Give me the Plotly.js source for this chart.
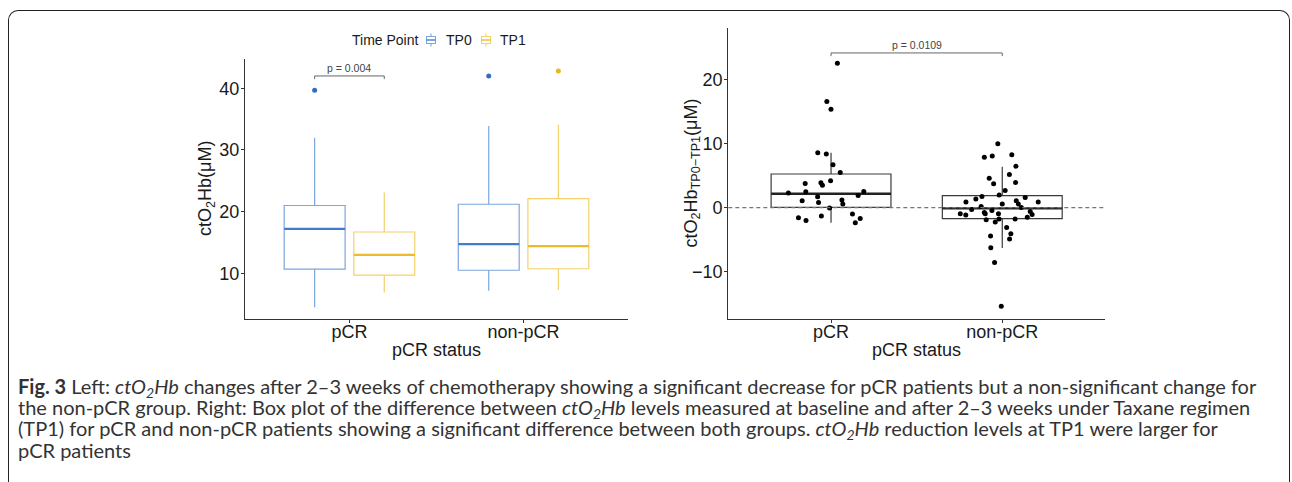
<!DOCTYPE html>
<html><head><meta charset="utf-8">
<script src="https://cdn.plot.ly/plotly-3.0.1.min.js"></script>
<style>
html,body{margin:0;padding:0;background:#fff;}
#wrap{position:relative;width:1292px;height:482px;overflow:hidden;}
#chart{width:1292px;height:482px;}
#frame{position:absolute;left:8px;top:10px;width:1282px;height:480px;border:1.5px solid #222;border-bottom:none;border-radius:10px 10px 0 0;pointer-events:none;box-sizing:border-box;}
</style></head><body>
<div id="wrap"><div id="chart"></div><div id="frame"></div></div>
<script>
// ---------- data ----------
const categories = ['pCR', 'non-pCR'];
const timePoints = ['TP0', 'TP1'];
const legendTitle = 'Time Point';

// Left panel: ctO2Hb box statistics per time point (pCR, non-pCR)
const tp0Q1 = [10.7, 10.5];
const tp0Median = [17.2, 14.75];
const tp0Q3 = [21.0, 21.2];
const tp0Lower = [4.5, 7.2];
const tp0Upper = [32.0, 33.9];
const tp0OutlierCat = ['pCR', 'non-pCR'];
const tp0Outliers = [39.7, 42.0];

const tp1Q1 = [9.7, 10.75];
const tp1Median = [13.0, 14.4];
const tp1Q3 = [16.7, 22.1];
const tp1Lower = [6.9, 7.3];
const tp1Upper = [23.1, 34.1];
const tp1OutlierCat = ['non-pCR'];
const tp1Outliers = [42.8];

// Right panel: ctO2Hb difference TP0-TP1
const diffQ1 = [0.05, -1.72];
const diffMedian = [2.19, -0.1];
const diffQ3 = [5.27, 1.88];
const diffLower = [-2.35, -6.3];
const diffUpper = [8.6, 6.4];
const diffPCR = [22.6, 16.6, 15.4, 8.6, 8.4, 6.7, 5.5, 4.2, 3.9, 3.5, 3.8, 2.55, 2.5, 2.3, 1.9,
  1.7, 1.2, 1.1, 0.83, 0.57, -0.05, -1.0, -1.3, -1.67, -1.56, -1.98, -2.35];
const diffNonPCR = [10.0, 8.3, 8.1, 7.9, 6.5, 5.2, 4.6, 3.96, 3.76, 2.7, 1.98, 1.6, 1.77, 1.36,
  1.1, 0.89, 0.89, 0.57, 0.57, 0.05, 0.2, -0.26, -0.42, -0.58, -1.05, -0.94, -0.94, -1.15, -0.94,
  -0.73, -1.88, -1.77, -1.77, -1.51, -2.24, -3.08, -4.43, -4.07, -4.9, -6.26, -8.55, -15.4];

const pLeft = 'p = 0.004';
const pRight = 'p = 0.0109';
const pLeftY = 42.0;
const pRightY = 24.2;

const captionLines = [
  '<b>Fig. 3</b> Left: <i>ctO<sub>2</sub>Hb</i> changes after 2–3 weeks of chemotherapy showing a significant decrease for pCR patients but a non-significant change for',
  'the non-pCR group. Right: Box plot of the difference between <i>ctO<sub>2</sub>Hb</i> levels measured at baseline and after 2–3 weeks under Taxane regimen',
  '(TP1) for pCR and non-pCR patients showing a significant difference between both groups. <i>ctO<sub>2</sub>Hb</i> reduction levels at TP1 were larger for',
  'pCR patients'
];

// ---------- layout helpers ----------
const W = 1292, H = 482;
const px = v => v / W;
const py = v => 1 - v / H;
const FONT = 'Liberation Sans, Arial, sans-serif';
const CAPFONT = 'Lato';

function statBox(name, xa, ya, q1, med, q3, lo, hi, color, width, group) {
  return {
    type: 'box', name: name, x: categories, q1: q1, median: med, q3: q3,
    lowerfence: lo, upperfence: hi, xaxis: xa, yaxis: ya,
    offsetgroup: group, alignmentgroup: xa, boxpoints: false,
    line: {color: color, width: width}, fillcolor: 'rgba(255,255,255,0)',
    whiskerwidth: 0, showlegend: false, hoverinfo: 'skip'
  };
}
function pointBox(xa, ya, xs, ys, color, size, group, jitter) {
  return {
    type: 'box', x: xs, y: ys, xaxis: xa, yaxis: ya, offsetgroup: group, alignmentgroup: xa,
    boxpoints: 'all', jitter: jitter, pointpos: 0,
    line: {width: 0, color: 'rgba(0,0,0,0)'}, fillcolor: 'rgba(0,0,0,0)',
    marker: {color: color, size: size}, whiskerwidth: 0, showlegend: false, hoverinfo: 'skip'
  };
}

const tp0Col = '#7ba6de', tp0Dark = '#3f7dcf', tp0Pt = '#2f6dc8';
const tp1Col = '#f3d269', tp1Dark = '#ebbb2c', tp1Pt = '#e7b624';

const traces = [
  statBox(timePoints[0], 'x', 'y', tp0Q1, tp0Median, tp0Q3, tp0Lower, tp0Upper, tp0Col, 1.2, 'TP0'),
  statBox(timePoints[1], 'x', 'y', tp1Q1, tp1Median, tp1Q3, tp1Lower, tp1Upper, tp1Col, 1.2, 'TP1'),
  statBox('m0', 'x', 'y', tp0Median, tp0Median, tp0Median, tp0Median, tp0Median, tp0Dark, 2.2, 'TP0'),
  statBox('m1', 'x', 'y', tp1Median, tp1Median, tp1Median, tp1Median, tp1Median, tp1Dark, 2.2, 'TP1'),
  pointBox('x', 'y', tp0OutlierCat, tp0Outliers, tp0Pt, 5, 'TP0', 0),
  pointBox('x', 'y', tp1OutlierCat, tp1Outliers, tp1Pt, 5, 'TP1', 0),
  statBox('diff', 'x2', 'y2', diffQ1, diffMedian, diffQ3, diffLower, diffUpper, '#3a3a3a', 1.2, 'D'),
  statBox('dm', 'x2', 'y2', diffMedian, diffMedian, diffMedian, diffMedian, diffMedian, '#222', 2.4, 'D'),
  pointBox('x2', 'y2',
    diffPCR.map(() => categories[0]).concat(diffNonPCR.map(() => categories[1])),
    diffPCR.concat(diffNonPCR), '#000', 5, 'D', 0.78)
];

function axisX(dom, anchor) {
  return {
    domain: dom, anchor: anchor, type: 'category', categoryorder: 'array', categoryarray: categories,
    range: [-0.6, 1.6], showline: true, linecolor: '#333', linewidth: 1.1, mirror: false,
    ticks: 'outside', ticklen: 3, tickcolor: '#333', tickwidth: 1, ticklabelstandoff: -7,
    tickfont: {size: 18, color: '#1a1a1a', family: FONT}, showgrid: false, zeroline: false, fixedrange: true
  };
}
function axisY(dom, anchor, range, tv) {
  return {
    domain: dom, anchor: anchor, range: range, tickvals: tv, showline: true, linecolor: '#333',
    linewidth: 1.1, ticks: 'outside', ticklen: 3, tickcolor: '#333', tickwidth: 1, ticklabelstandoff: -2,
    tickfont: {size: 18, color: '#1a1a1a', family: FONT}, showgrid: false, zeroline: false, fixedrange: true
  };
}

// caption font size fitted to the reference line width
function captionSize() {
  const c = document.createElement('canvas').getContext('2d');
  c.font = '100px "' + CAPFONT + '"';
  const plain = captionLines[0].replace(/<[^>]+>/g, '');
  const w = c.measureText(plain).width;
  return Math.round(100 * 1245 / w * 10) / 10;
}
const capSize = captionSize();
const capY = [387, 408, 429, 450];

const shapes = [
  // left bracket
  {type: 'line', xref: 'x', yref: 'y', x0: -0.2, x1: 0.2, y0: pLeftY, y1: pLeftY, line: {color: '#666', width: 1}},
  {type: 'line', xref: 'x', yref: 'y', x0: -0.2, x1: -0.2, y0: pLeftY, y1: pLeftY - 0.5, line: {color: '#666', width: 1}},
  {type: 'line', xref: 'x', yref: 'y', x0: 0.2, x1: 0.2, y0: pLeftY, y1: pLeftY - 0.5, line: {color: '#666', width: 1}},
  // right bracket
  {type: 'line', xref: 'x2', yref: 'y2', x0: 0, x1: 1, y0: pRightY, y1: pRightY, line: {color: '#666', width: 1}},
  {type: 'line', xref: 'x2', yref: 'y2', x0: 0, x1: 0, y0: pRightY, y1: pRightY - 0.5, line: {color: '#666', width: 1}},
  {type: 'line', xref: 'x2', yref: 'y2', x0: 1, x1: 1, y0: pRightY, y1: pRightY - 0.5, line: {color: '#666', width: 1}},
  // zero reference line
  {type: 'line', xref: 'x2 domain', yref: 'y2', x0: 0, x1: 1, y0: 0, y1: 0, line: {color: '#777', width: 1.3, dash: '4px,3px'}}
];

// legend keys (small boxplot glyphs) built as shapes
function legendKey(cx, cy, col, dark) {
  const L = (x0, y0, x1, y1, c, w) => ({type: 'line', xref: 'paper', yref: 'paper',
    x0: px(x0), x1: px(x1), y0: py(y0), y1: py(y1), line: {color: c, width: w}});
  return [
    {type: 'rect', xref: 'paper', yref: 'paper', x0: px(cx - 4.5), x1: px(cx + 4.5), y0: py(cy + 3.5), y1: py(cy - 3.5),
      line: {color: col, width: 1.1}, fillcolor: 'rgba(0,0,0,0)'},
    L(cx - 4.5, cy, cx + 4.5, cy, dark, 1.4),
    L(cx, cy - 3.5, cx, cy - 6.5, col, 1.1),
    L(cx, cy + 3.5, cx, cy + 6.5, col, 1.1)
  ];
}
const legendY = 40;
const allShapes = shapes.concat(legendKey(431, legendY, tp0Col, tp0Dark), legendKey(486, legendY, tp1Col, tp1Dark));

const annotations = [
  {xref: 'paper', yref: 'paper', x: px(207), y: py(189), xanchor: 'center', yanchor: 'middle',
    text: 'ctO<sub>2</sub>Hb(μM)', textangle: -90, showarrow: false, font: {size: 18, family: FONT, color: '#1a1a1a'}},
  {xref: 'paper', yref: 'paper', x: px(692), y: py(173.5), xanchor: 'center', yanchor: 'middle',
    text: 'ctO<sub>2</sub>Hb<sub>TP0−TP1</sub>(μM)', textangle: -90, showarrow: false, font: {size: 18, family: FONT, color: '#1a1a1a'}},
  {xref: 'x domain', yref: 'paper', x: 0.5, y: py(350), xanchor: 'center', yanchor: 'middle', text: 'pCR status', showarrow: false,
    font: {size: 18, family: FONT, color: '#1a1a1a'}},
  {xref: 'x2 domain', yref: 'paper', x: 0.5, y: py(350), xanchor: 'center', yanchor: 'middle', text: 'pCR status', showarrow: false,
    font: {size: 18, family: FONT, color: '#1a1a1a'}},
  {xref: 'x', yref: 'y', x: 0, y: pLeftY, xanchor: 'center', yanchor: 'bottom', text: pLeft, showarrow: false,
    font: {size: 10.5, family: FONT, color: '#444'}},
  {xref: 'x2', yref: 'y2', x: 0.5, y: pRightY, xanchor: 'center', yanchor: 'bottom', text: pRight, showarrow: false,
    font: {size: 10.5, family: FONT, color: '#444'}},
  // legend texts
  {xref: 'paper', yref: 'paper', x: px(350), y: py(legendY), xanchor: 'left', yanchor: 'middle', text: legendTitle,
    showarrow: false, font: {size: 14, family: FONT, color: '#1a1a1a'}},
  {xref: 'paper', yref: 'paper', x: px(444), y: py(legendY), xanchor: 'left', yanchor: 'middle', text: timePoints[0],
    showarrow: false, font: {size: 14, family: FONT, color: '#1a1a1a'}},
  {xref: 'paper', yref: 'paper', x: px(498), y: py(legendY), xanchor: 'left', yanchor: 'middle', text: timePoints[1],
    showarrow: false, font: {size: 14, family: FONT, color: '#1a1a1a'}}
].concat(captionLines.map((t, i) => ({
  xref: 'paper', yref: 'paper', x: px(16), y: py(capY[i]), xanchor: 'left', yanchor: 'middle',
  text: t, showarrow: false, font: {size: capSize, family: CAPFONT, color: '#333'}
})));

const layout = {
  width: W, height: H, margin: {l: 0, r: 0, t: 0, b: 0},
  paper_bgcolor: '#fff', plot_bgcolor: 'rgba(0,0,0,0)',
  boxmode: 'group', boxgap: 0.2, boxgroupgap: 0.125,
  font: {family: FONT, color: '#1a1a1a'},
  xaxis: axisX([px(245), px(628)], 'y'),
  yaxis: axisY([py(319), py(59)], 'x', [2.6, 44.75], [10, 20, 30, 40]),
  xaxis2: axisX([px(728.3), px(1105)], 'y2'),
  yaxis2: axisY([py(319), py(28)], 'x2', [-17.4, 28.1], [-10, 0, 10, 20]),
  showlegend: false,
  shapes: allShapes,
  annotations: annotations
};

Plotly.newPlot('chart', traces, layout, {staticPlot: true, displayModeBar: false});
</script>
</body></html>
